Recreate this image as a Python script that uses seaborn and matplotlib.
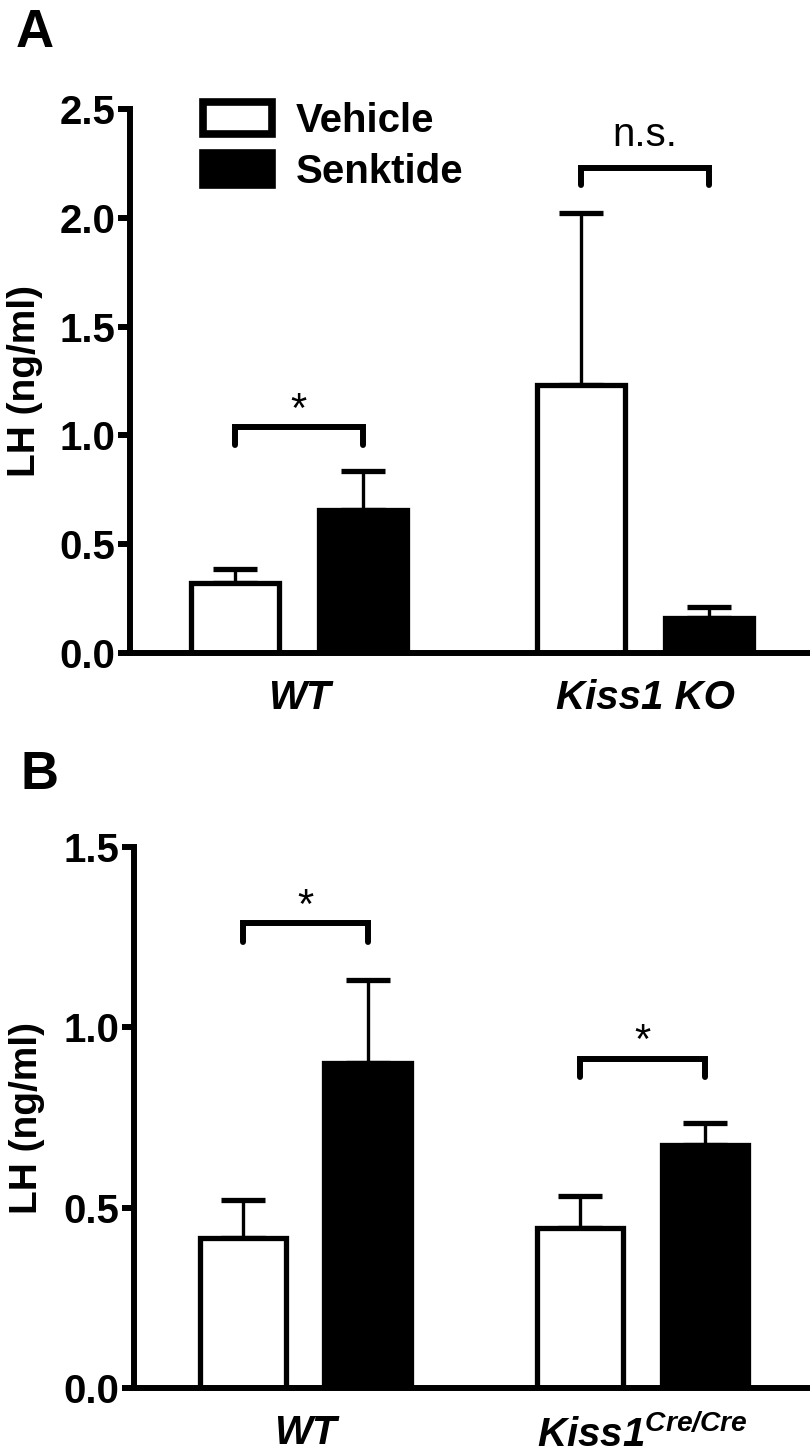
import numpy as np
import pandas as pd
import matplotlib
matplotlib.use('Agg')
import matplotlib.pyplot as plt
import seaborn as sns
from matplotlib.patches import Patch

# values (mean and SEM, LH ng/ml)
treatments = ['Vehicle', 'Senktide']

genotypes_a = ['WT', 'Kiss1 KO']
lh_a_vehicle = [0.32, 1.23]
lh_a_senktide = [0.655, 0.16]
sem_a_vehicle = [0.066, 0.79]
sem_a_senktide = [0.18, 0.05]

genotypes_b = ['WT', r'Kiss1$^{Cre/Cre}$']
lh_b_vehicle = [0.417, 0.444]
lh_b_senktide = [0.90, 0.675]
sem_b_vehicle = [0.103, 0.088]
sem_b_senktide = [0.23, 0.06]

sns.set_style('ticks')
plt.rcParams['font.family'] = ['Liberation Sans', 'DejaVu Sans']
plt.rcParams['mathtext.fontset'] = 'custom'
plt.rcParams['mathtext.it'] = 'Liberation Sans:italic:bold'
plt.rcParams['mathtext.rm'] = 'Liberation Sans:italic:bold'
plt.rcParams['mathtext.bf'] = 'Liberation Sans:italic:bold'
for k in ['text.color', 'axes.edgecolor', 'axes.labelcolor', 'xtick.color', 'ytick.color']:
    plt.rcParams[k] = 'black'

W, H = 810, 1454
fig = plt.figure(figsize=(W / 100, H / 100), dpi=100)

LW = 4.3
FS = 29


def make_df(genotypes, veh, sen):
    return pd.DataFrame({
        'genotype': genotypes * 2,
        'treatment': ['Vehicle'] * len(genotypes) + ['Senktide'] * len(genotypes),
        'lh': list(veh) + list(sen),
    })


def panel(rect, genotypes, veh, sen, sem_v, sem_s, ylim, yticks, xlim):
    ax = fig.add_axes(rect)
    df = make_df(genotypes, veh, sen)
    sns.barplot(data=df, x='genotype', y='lh', hue='treatment', hue_order=treatments,
                palette={'Vehicle': 'white', 'Senktide': 'black'},
                edgecolor='black', linewidth=3.8, width=0.74, gap=0.31,
                errorbar=None, legend=False, ax=ax)
    bars = list(ax.containers)
    centers = [[b.get_x() + b.get_width() / 2 for b in c] for c in bars]
    for cont, sems in zip(bars, [sem_v, sem_s]):
        xs = [b.get_x() + b.get_width() / 2 for b in cont]
        hs = [b.get_height() for b in cont]
        ax.errorbar(xs, hs, yerr=[np.zeros(len(sems)), sems], fmt='none',
                    ecolor='black', elinewidth=2.4, capsize=16, capthick=3.8, zorder=0.5)
    ax.set_ylim(*ylim)
    ax.set_xlim(*xlim)
    ax.set_yticks(yticks)
    ax.set_yticklabels([f'{t:.1f}' for t in yticks], fontsize=FS, fontweight='bold')
    ax.tick_params(axis='y', length=8.5, width=LW, pad=2)
    ax.tick_params(axis='x', length=0, pad=19)
    for lbl in ax.get_xticklabels():
        lbl.set_fontsize(FS)
        lbl.set_fontweight('bold')
        lbl.set_fontstyle('italic')
    ax.set_xlabel('')
    ax.set_ylabel('LH (ng/ml)', fontsize=28, fontweight='bold')
    sns.despine(ax=ax)
    for s in ['left', 'bottom']:
        ax.spines[s].set_linewidth(LW)
    ax.patch.set_alpha(0)
    return ax, centers


def bracket(ax, x0, x1, y_lo, y_hi, label, y_txt, size, weight='normal'):
    ax.plot([x0, x0, x1, x1], [y_lo, y_hi, y_hi, y_lo], color='black', lw=LW,
            solid_capstyle='round', solid_joinstyle='miter', clip_on=False)
    ax.text((x0 + x1) / 2, y_txt, label, ha='center', va='center', fontsize=size,
            fontweight=weight)


# Panel A
axA, cA = panel([130 / W, 1 - 653 / H, 678 / W, 544 / H], genotypes_a,
                lh_a_vehicle, lh_a_senktide, sem_a_vehicle, sem_a_senktide,
                (0, 2.5), [0.0, 0.5, 1.0, 1.5, 2.0, 2.5], (-0.488, 1.471))
axA.yaxis.set_label_coords(-0.128, 0.5)
bracket(axA, cA[0][0], cA[1][0], 0.955, 1.04, '*', 1.11, 30)
bracket(axA, cA[0][1], cA[1][1], 2.15, 2.23, 'n.s.', 2.38, 29)

# Panel B
axB, cB = panel([134 / W, 1 - 1388 / H, 674 / W, 541 / H], genotypes_b,
                lh_b_vehicle, lh_b_senktide, sem_b_vehicle, sem_b_senktide,
                (0, 1.5), [0.0, 0.5, 1.0, 1.5], (-0.507, 1.49))
axB.yaxis.set_label_coords(-0.132, 0.5)
bracket(axB, cB[0][0], cB[1][0], 1.237, 1.29, '*', 1.335, 30)
bracket(axB, cB[0][1], cB[1][1], 0.863, 0.913, '*', 0.96, 30)

# legend
handles = [Patch(facecolor='white', edgecolor='black', linewidth=5.5),
           Patch(facecolor='black', edgecolor='black', linewidth=5.5)]
fig.legend(handles, treatments, loc='upper left', bbox_to_anchor=(183 / W, 1 - 82 / H),
           frameon=False, borderpad=0, handlelength=1.7, handleheight=0.85,
           handletextpad=0.6, labelspacing=0.32, prop={'size': FS, 'weight': 'bold'})

fig.text(16 / W, 1 - 47 / H, 'A', fontsize=38, fontweight='bold', ha='left', va='baseline')
fig.text(20 / W, 1 - 789 / H, 'B', fontsize=38, fontweight='bold', ha='left', va='baseline')

fig.savefig('out.png', dpi=100)
